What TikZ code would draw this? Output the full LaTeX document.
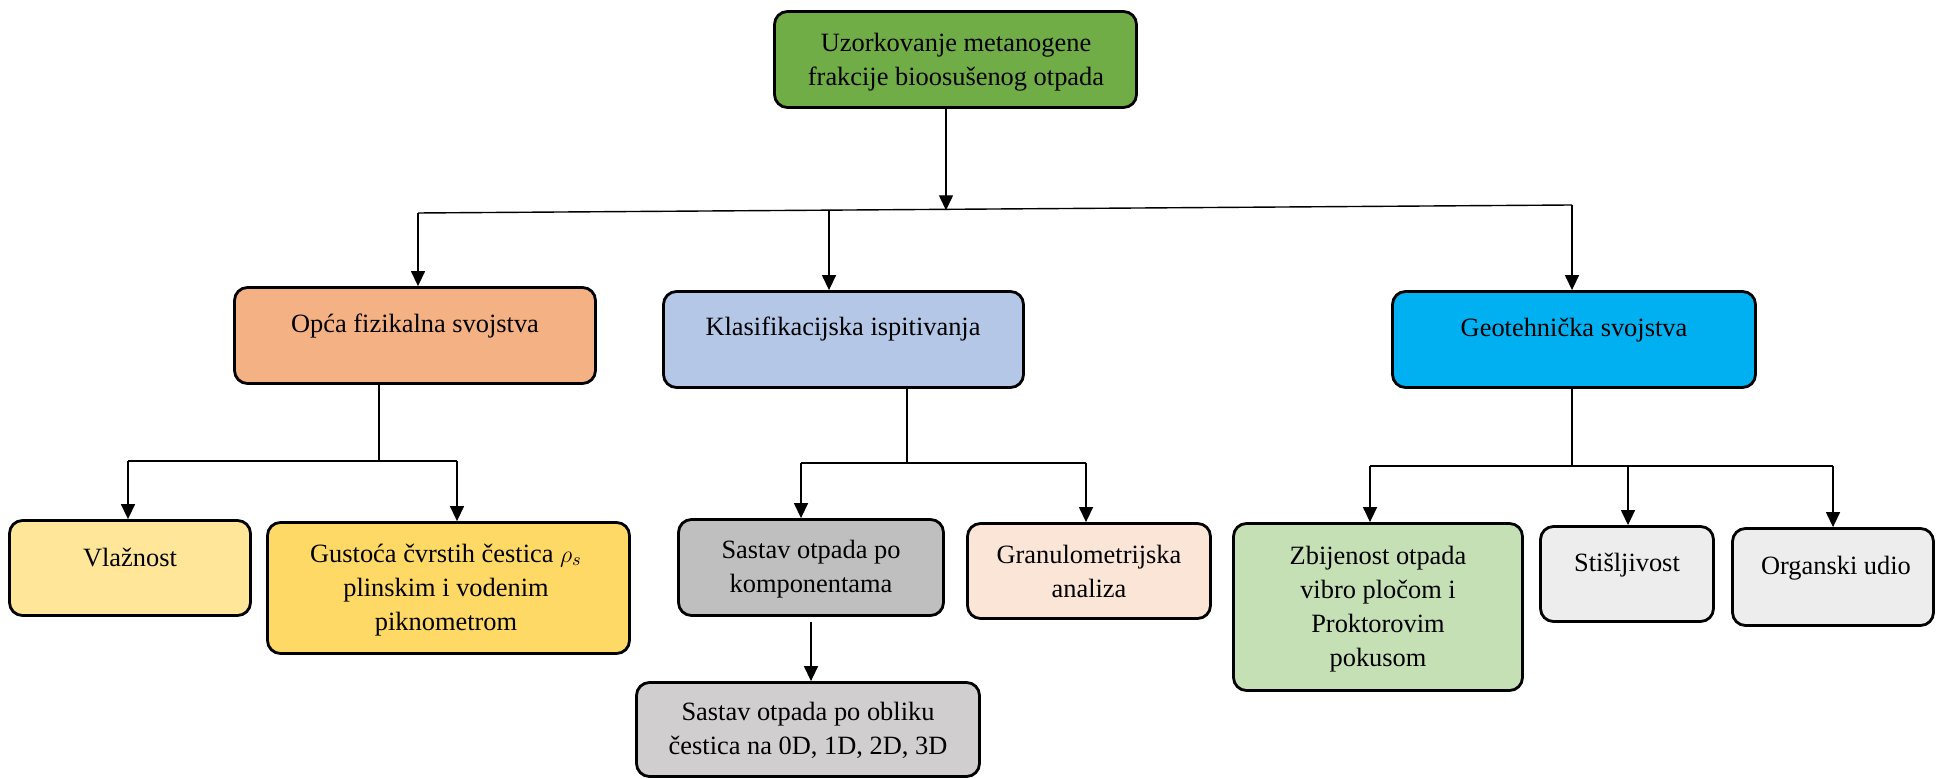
\documentclass[tikz,border=0pt]{standalone}
\usepackage{fontspec}
\setmainfont{Liberation Serif}
\usetikzlibrary{arrows.meta}
\definecolor{cTop}{HTML}{70AD47}
\definecolor{cOpca}{HTML}{F4B183}
\definecolor{cKlas}{HTML}{B4C7E7}
\definecolor{cGeo}{HTML}{00B0F0}
\definecolor{cVlaz}{HTML}{FFE699}
\definecolor{cGust}{HTML}{FFD966}
\definecolor{cSast}{HTML}{BFBFBF}
\definecolor{cGran}{HTML}{FBE5D6}
\definecolor{cObl}{HTML}{D0CECE}
\definecolor{cZbij}{HTML}{C5E0B4}
\definecolor{cSiva}{HTML}{EDEDED}
\tikzset{
  box/.style={draw=black, line width=1.4pt, rounded corners=6.5pt, inner sep=0pt},
  txt/.style={inner sep=0pt, align=center, font=\fontsize{13.2}{17}\selectfont},
  conn/.style={draw=black, line width=0.7pt},
  arr/.style={conn, -{Triangle[length=7.5pt,width=7pt]}}
}
\begin{document}
\begin{tikzpicture}[x=0.5pt,y=-0.5pt]
\useasboundingbox (0,0) rectangle (1938,779);
% boxes
\node[box, fill=cTop, minimum width=181pt, minimum height=48pt] (b0) at (955.5,59.5) {};
\node[txt] (t0) at (956,62) {Uzorkovanje metanogene\\frakcije bioosušenog otpada};
\node[box, fill=cOpca, minimum width=180.5pt, minimum height=48pt] (b1) at (415,335.5) {};
\node[txt] (t1) at (415,326) {Opća fizikalna svojstva};
\node[box, fill=cKlas, minimum width=180pt, minimum height=48pt] (b2) at (843.5,339.5) {};
\node[txt] (t2) at (843,329) {Klasifikacijska ispitivanja};
\node[box, fill=cGeo, minimum width=181.5pt, minimum height=48pt] (b3) at (1574,339.5) {};
\node[txt] (t3) at (1574,330) {Geotehnička svojstva};
\node[box, fill=cVlaz, minimum width=120.5pt, minimum height=47.5pt] (b4) at (130,568) {};
\node[txt] (t4) at (130,558) {Vlažnost};
\node[box, fill=cGust, minimum width=181pt, minimum height=65.5pt] (b5) at (448.5,588) {};
\node[txt] (t5) at (446,590) {Gustoća čvrstih čestica $\rho_s$\\plinskim i vodenim\\piknometrom};
\node[box, fill=cSast, minimum width=132.5pt, minimum height=48pt] (b6) at (811,567.5) {};
\node[txt] (t6) at (811,569) {Sastav otpada po\\komponentama};
\node[box, fill=cGran, minimum width=121.5pt, minimum height=47.5pt] (b7) at (1089,571) {};
\node[txt] (t7) at (1089,571) {Granulometrijska\\analiza};
\node[box, fill=cObl, minimum width=171.5pt, minimum height=47pt] (b8) at (808,729.5) {};
\node[txt] (t8) at (808,730.5) {Sastav otpada po obliku\\čestica na 0D, 1D, 2D, 3D};
\node[box, fill=cZbij, minimum width=144.5pt, minimum height=83.5pt] (b9) at (1378,607) {};
\node[txt] (t9) at (1378,609) {Zbijenost otpada\\vibro pločom i\\Proktorovim\\pokusom};
\node[box, fill=cSiva, minimum width=86.5pt, minimum height=47.5pt] (b10) at (1627,574) {};
\node[txt] (t10) at (1627,565) {Stišljivost};
\node[box, fill=cSiva, minimum width=100.5pt, minimum height=48.5pt] (b11) at (1833,577) {};
\node[txt] (t11) at (1836,568) {Organski udio};
% level 1 connectors
\coordinate (hL) at (418,213);
\coordinate (hR) at (1572,205);
\coordinate (j0) at (946,210.3);
\coordinate (k0) at (829,210.2);
\draw[conn] (hL) -- (hR);
\draw[arr] (b0.south -| j0) -- (j0);
\draw[arr] (hL) -- (hL |- b1.north);
\draw[arr] (k0) -- (k0 |- b2.north);
\draw[arr] (hR) -- (hR |- b3.north);
% Opca subtree
\coordinate (o1) at (379,461);
\coordinate (oL) at (128,461);
\coordinate (oR) at (457,461);
\draw[conn] (b1.south -| o1) -- (o1);
\draw[conn] (oL) -- (oR);
\draw[arr] (oL) -- (oL |- b4.north);
\draw[arr] (oR) -- (oR |- b5.north);
% Klasifikacijska subtree
\coordinate (k1) at (907,463);
\coordinate (kL) at (801,463);
\coordinate (kR) at (1086,463);
\draw[conn] (b2.south -| k1) -- (k1);
\draw[conn] (kL) -- (kR);
\draw[arr] (kL) -- (kL |- b6.north);
\draw[arr] (kR) -- (kR |- b7.north);
\draw[arr] ([yshift=-2.5pt]b6.south) -- (b6.south |- b8.north);
% Geotehnicka subtree
\coordinate (g1) at (1572,466);
\coordinate (gL) at (1370,466);
\coordinate (gM) at (1628,466);
\coordinate (gR) at (1833,466);
\draw[conn] (b3.south -| g1) -- (g1);
\draw[conn] (gL) -- (gR);
\draw[arr] (gL) -- (gL |- b9.north);
\draw[arr] (gM) -- (gM |- b10.north);
\draw[arr] (gR) -- (gR |- b11.north);
\end{tikzpicture}
\end{document}
